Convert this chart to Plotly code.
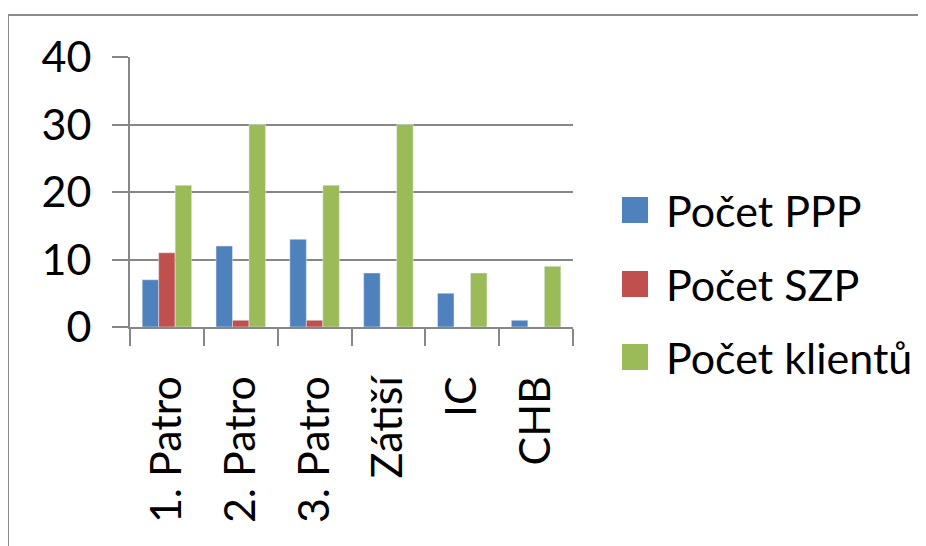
import plotly.graph_objects as go

categories = ["1. Patro", "2. Patro", "3. Patro", "Zátiší", "IC", "CHB"]
series_names = ["Počet PPP", "Počet SZP", "Počet klientů"]
ppp = [7, 12, 13, 8, 5, 1]
szp = [11, 1, 1, 0, 0, 0]
klientu = [21, 30, 21, 30, 8, 9]
colors = ["#4F81BD", "#C0504D", "#9BBB59"]
y_ticks = [0, 10, 20, 30, 40]

FONT = "Lato"
FS = 43
GRAY = "#878787"
OFF = 8  # page body margin

fig = go.Figure()
for name, vals, col in zip(series_names, [ppp, szp, klientu], colors):
    fig.add_trace(go.Bar(x=categories, y=vals, name=name, marker=dict(color=col),
                         showlegend=False))

W, H = 926 - OFF, 546 - OFF
L, T = 130 - OFF, 57 - OFF
R, B = W - (573 - OFF), H - (327 - OFF)
pw, ph = W - L - R, H - T - B

def px_x(x):
    return (x - OFF - L) / pw

def px_y(y):
    return (H - B - (y - OFF)) / ph

shapes = [dict(type="rect", xref="paper", yref="paper",
               x0=px_x(8), x1=px_x(980), y0=px_y(15), y1=px_y(600),
               line=dict(color="#8c8c8c", width=2), fillcolor="rgba(0,0,0,0)", layer="below")]
annotations = []
legend_y = [210, 284, 357]
for name, col, yc in zip(series_names, colors, legend_y):
    shapes.append(dict(type="rect", xref="paper", yref="paper",
                       x0=px_x(622), x1=px_x(648), y0=px_y(yc + 13), y1=px_y(yc - 13),
                       line=dict(width=0), fillcolor=col))
    annotations.append(dict(xref="paper", yref="paper", x=px_x(664), y=px_y(yc),
                            xanchor="left", yanchor="middle", showarrow=False,
                            text=name, font=dict(family=FONT, size=FS, color="black")))

fig.update_layout(
    width=W, height=H,
    margin=dict(l=L, r=R, t=T, b=B, pad=0),
    paper_bgcolor="white", plot_bgcolor="white",
    barmode="group", bargap=0.33, bargroupgap=0,
    font=dict(family=FONT, size=FS, color="black"),
    shapes=shapes, annotations=annotations,
    xaxis=dict(type="category", showgrid=False, showline=True, linecolor=GRAY, linewidth=2,
               ticks="outside", tickson="boundaries", ticklen=17, tickwidth=2, tickcolor=GRAY,
               tickangle=-90, tickfont=dict(family=FONT, size=FS, color="black"),
               ticklabelstandoff=30, range=[-0.5, 5.5]),
    yaxis=dict(range=[0, 40], tickvals=y_ticks, showgrid=True, gridcolor=GRAY, gridwidth=2,
               showline=True, linecolor=GRAY, linewidth=2, zeroline=False,
               ticks="outside", ticklen=16, tickwidth=2, tickcolor=GRAY,
               tickfont=dict(family=FONT, size=FS, color="black"), ticklabelstandoff=12),
)

fig.write_html("out.html")
